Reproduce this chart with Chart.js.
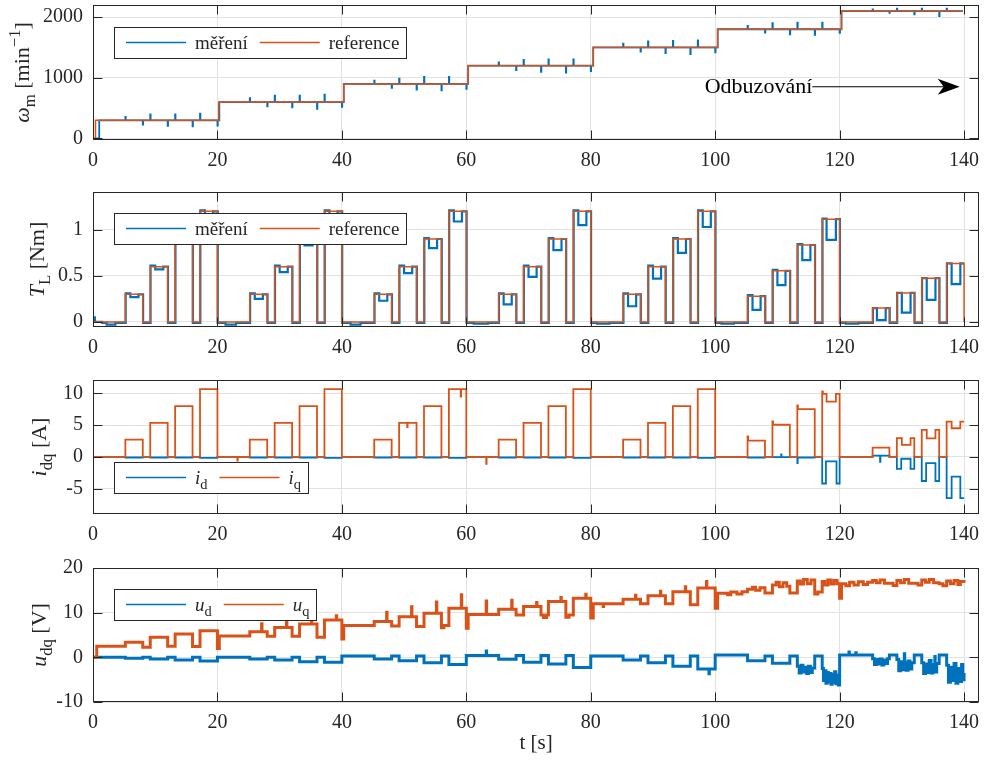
<!DOCTYPE html>
<html>
<head>
<meta charset="utf-8">
<script src="https://cdn.jsdelivr.net/npm/chart.js@4.4.1/dist/chart.umd.min.js"></script>
<style>
  html, body { margin: 0; padding: 0; background: #fff; }
  #wrap { position: relative; width: 984px; height: 765px; }
  canvas { position: absolute; left: 0; }
</style>
</head>
<body>
<div id="wrap">
  <canvas id="c1" width="984" height="180" style="top:0px"></canvas>
  <canvas id="c2" width="984" height="185" style="top:180px"></canvas>
  <canvas id="c3" width="984" height="190" style="top:365px"></canvas>
  <canvas id="c4" width="984" height="210" style="top:555px"></canvas>
</div>
<script>
// ---- data (t [s], value) ----
const xTicks = [0, 20, 40, 60, 80, 100, 120, 140];
const speedTicks = [0, 1000, 2000];
const torqueTicks = [0, 0.5, 1];
const currentTicks = [-5, 0, 5, 10];
const voltageTicks = [-10, 0, 10, 20];

const speedRef = [
  [0, 0], [0.4, 300], [20.2, 600], [40.3, 900], [60.3, 1200], [80.4, 1500],
  [100.4, 1800], [120.3, 2100], [139.8, 2100]
];

const speedMeas = [
  [0, 0], [1.0, 300], [5.2, 355], [5.26, 300], [8.0, 228], [8.06, 300], [9.2, 395], [9.26, 300],
  [12.0, 210], [12.06, 300], [13.2, 395], [13.26, 300], [16.0, 200], [16.06, 300], [17.2, 410], [17.26, 300],
  [20.0, 212], [20.06, 300],
  [20.3, 600], [25.2, 666], [25.26, 600], [28.0, 528], [28.06, 600], [29.2, 705], [29.26, 600],
  [32.0, 512], [32.06, 600], [33.2, 705], [33.26, 600], [36.0, 490], [36.06, 600], [37.2, 722], [37.26, 600],
  [40.0, 520], [40.06, 600],
  [40.3, 900], [45.2, 955], [45.26, 900], [48.0, 834], [48.06, 900], [49.2, 988], [49.26, 900],
  [52.0, 806], [52.06, 900], [53.2, 1016], [53.26, 900], [56.0, 795], [56.06, 900], [57.2, 1016], [57.26, 900],
  [60.0, 820], [60.06, 900],
  [60.3, 1200], [65.2, 1255], [65.26, 1200], [68.0, 1128], [68.06, 1200], [69.2, 1294], [69.26, 1200],
  [72.0, 1100], [72.06, 1200], [73.2, 1305], [73.26, 1200], [76.0, 1084], [76.06, 1200], [77.2, 1305], [77.26, 1200],
  [80.0, 1110], [80.06, 1200],
  [80.4, 1500], [85.2, 1561], [85.26, 1500], [88.0, 1434], [88.06, 1500], [89.2, 1600], [89.26, 1500],
  [92.0, 1406], [92.06, 1500], [93.2, 1610], [93.26, 1500], [96.0, 1390], [96.06, 1500], [97.2, 1616], [97.26, 1500],
  [100.0, 1420], [100.06, 1500],
  [100.4, 1800], [105.2, 1855], [105.26, 1800], [108.0, 1745], [108.06, 1800], [109.2, 1900], [109.26, 1800],
  [112.0, 1717], [112.06, 1800], [113.2, 1910], [113.26, 1800], [116.0, 1706], [116.06, 1800], [117.2, 1910], [117.26, 1800],
  [120.0, 1740], [120.06, 1800],
  [120.3, 2100], [125.3, 2128], [125.36, 2100], [128.0, 2072], [128.06, 2100], [129.2, 2139], [129.26, 2100],
  [132.0, 2045], [132.06, 2100], [133.2, 2139], [133.26, 2100], [136.0, 2017], [136.06, 2100], [137.2, 2139], [137.26, 2100],
  [139.8, 2100]
];

const torqueRef = [
  [0, 0], [5.2, 0.3], [8.0, 0], [9.2, 0.6], [12.0, 0], [13.2, 0.9], [16.0, 0], [17.2, 1.2], [20.0, 0],
  [25.2, 0.3], [28.0, 0], [29.2, 0.6], [32.0, 0], [33.2, 0.9], [36.0, 0], [37.2, 1.2], [40.0, 0],
  [45.2, 0.3], [48.0, 0], [49.2, 0.6], [52.0, 0], [53.2, 0.9], [56.0, 0], [57.2, 1.2], [60.0, 0],
  [65.2, 0.3], [68.0, 0], [69.2, 0.6], [72.0, 0], [73.2, 0.9], [76.0, 0], [77.2, 1.2], [80.0, 0],
  [85.2, 0.3], [88.0, 0], [89.2, 0.6], [92.0, 0], [93.2, 0.9], [96.0, 0], [97.2, 1.2], [100.0, 0],
  [105.2, 0.28], [108.0, 0], [109.2, 0.555], [112.0, 0], [113.2, 0.835], [116.0, 0], [117.2, 1.115], [120.0, 0],
  [125.3, 0.15], [128.0, 0], [129.2, 0.315], [132.0, 0], [133.2, 0.475], [136.0, 0], [137.2, 0.635], [140.0, 0]
];

const torqueMeas = [
  [0, 0.05], [0.3, 0], [1.5, -0.01], [2.2, -0.03], [3.6, -0.01],
  [5.25, 0.31], [6.0, 0.27], [7.3, 0.3], [8.05, -0.01], [9.25, 0.61], [10.0, 0.57], [11.3, 0.6], [12.05, -0.01],
  [13.25, 0.91], [14.0, 0.86], [15.3, 0.9], [16.05, -0.01], [17.25, 1.21], [18.0, 1.16], [19.3, 1.2], [20.05, -0.01],
  [21.3, -0.03], [23.0, -0.01],
  [25.25, 0.31], [26.0, 0.25], [27.3, 0.3], [28.05, -0.01], [29.25, 0.61], [30.0, 0.54], [31.3, 0.6], [32.05, -0.01],
  [33.25, 0.91], [34.0, 0.83], [35.3, 0.9], [36.05, -0.01], [37.25, 1.21], [38.0, 1.13], [39.3, 1.2], [40.05, -0.01],
  [41.4, -0.03], [43.0, -0.01],
  [45.25, 0.31], [46.0, 0.23], [47.3, 0.3], [48.05, -0.01], [49.25, 0.61], [50.0, 0.53], [51.3, 0.6], [52.05, -0.01],
  [53.25, 0.91], [54.0, 0.80], [55.3, 0.9], [56.05, -0.01], [57.25, 1.21], [58.0, 1.09], [59.3, 1.2], [60.05, -0.01],
  [61.2, -0.02], [63.5, -0.01],
  [65.25, 0.31], [66.0, 0.19], [67.3, 0.3], [68.05, -0.01], [69.25, 0.61], [70.0, 0.49], [71.3, 0.6], [72.05, -0.01],
  [73.25, 0.91], [74.0, 0.78], [75.3, 0.9], [76.05, -0.01], [77.25, 1.21], [78.0, 1.05], [79.3, 1.2], [80.05, -0.01],
  [81.0, -0.02], [83.0, -0.01],
  [85.25, 0.31], [86.0, 0.17], [87.3, 0.3], [88.05, -0.01], [89.25, 0.61], [90.0, 0.47], [91.3, 0.6], [92.05, -0.01],
  [93.25, 0.91], [94.0, 0.75], [95.3, 0.9], [96.05, -0.01], [97.25, 1.21], [98.0, 1.03], [99.3, 1.2], [100.05, -0.01],
  [101.0, -0.02], [103.0, -0.01],
  [105.25, 0.29], [106.0, 0.13], [107.3, 0.28], [108.05, -0.01], [109.25, 0.565], [110.0, 0.40], [111.3, 0.555], [112.05, -0.01],
  [113.25, 0.845], [114.0, 0.67], [115.3, 0.835], [116.05, -0.01], [117.25, 1.12], [117.9, 0.89], [119.4, 1.115], [120.05, -0.01],
  [121.0, -0.02], [123.0, -0.01],
  [125.35, 0.15], [126.0, 0.02], [127.4, 0.15], [128.05, -0.01], [129.25, 0.315], [130.0, 0.10], [131.4, 0.315], [132.05, -0.01],
  [133.25, 0.475], [134.0, 0.24], [135.4, 0.475], [136.05, -0.01], [137.25, 0.635], [138.0, 0.41], [139.4, 0.635], [140.0, 0.635]
];

const iq = [
  [0, 0], [5.2, 2.7], [8.0, 0], [9.2, 5.35], [12.0, 0], [13.2, 8.0], [16.0, 0], [17.2, 10.65], [20.0, 0],
  [23.2, -0.6], [23.26, 0],
  [25.2, 2.7], [28.0, 0], [29.2, 5.35], [32.0, 0], [33.2, 8.0], [36.0, 0], [37.2, 10.65], [40.0, 0],
  [45.2, 2.7], [48.0, 0], [49.2, 5.35], [50.5, 4.7], [50.56, 5.35], [52.0, 0], [53.2, 8.0], [56.0, 0],
  [57.2, 10.65], [59.1, 9.5], [59.16, 10.65], [60.0, 0],
  [63.2, -1.1], [63.26, 0],
  [65.2, 2.7], [68.0, 0], [69.2, 5.35], [72.0, 0], [73.2, 8.0], [76.0, 0], [77.2, 10.65], [80.0, 0],
  [85.2, 2.7], [88.0, 0], [89.2, 5.35], [92.0, 0], [93.2, 8.0], [96.0, 0], [97.2, 10.65], [100.0, 0],
  [105.2, 3.2], [105.3, 2.55], [108.0, 0], [109.2, 5.6], [109.3, 5.05], [112.0, 0], [113.2, 8.1], [113.3, 7.5], [116.0, 0],
  [117.2, 10.3], [117.3, 9.9], [117.9, 8.7], [119.4, 9.9], [120.0, 0],
  [125.3, 1.45], [128.0, 0], [129.2, 2.95], [130.0, 1.9], [131.4, 2.95], [132.0, 0],
  [133.2, 4.25], [134.0, 2.9], [135.4, 4.25], [136.0, 0], [137.2, 5.55], [138.0, 4.5], [139.4, 5.55], [140.0, 5.55]
];

const id = [
  [0, 0], [5.2, -0.1], [8.0, 0], [9.2, -0.1], [12.0, 0], [13.2, -0.1], [16.0, 0], [17.2, -0.15], [20.0, 0],
  [25.2, -0.1], [28.0, 0], [29.2, -0.1], [32.0, 0], [33.2, -0.1], [36.0, 0], [37.2, -0.15], [40.0, 0],
  [45.2, -0.1], [48.0, 0], [49.2, -0.1], [52.0, 0], [53.2, -0.1], [56.0, 0], [57.2, -0.15], [60.0, 0],
  [65.2, -0.1], [68.0, 0], [69.2, -0.1], [72.0, 0], [73.2, -0.1], [76.0, 0], [77.2, -0.15], [80.0, 0],
  [85.2, -0.1], [88.0, 0], [89.2, -0.1], [92.0, 0], [93.2, -0.1], [96.0, 0], [97.2, -0.15], [100.0, 0],
  [105.2, -0.1], [108.0, 0], [109.2, -0.05], [110.6, 0.4], [110.66, -0.05], [112.0, 0],
  [113.2, -1.0], [113.26, -0.1], [116.0, 0], [117.2, -4.2], [117.8, -0.7], [119.5, -4.2], [120.0, 0],
  [125.3, 0.2], [126.5, -0.8], [126.56, 0.2], [128.0, 0], [129.2, -1.9], [129.9, -0.3], [131.4, -1.9], [132.0, 0],
  [133.2, -3.8], [133.9, -1.0], [135.4, -3.8], [136.0, 0], [137.2, -6.5], [138.0, -3.1], [139.4, -6.5], [140.0, -6.5]
];

const uq = [
  [0, 0], [0.6, 2.5], [5.2, 3.35], [8.0, 2.25], [9.2, 4.5], [12.0, 2.5], [13.2, 5.2], [16.0, 2.4], [17.2, 5.95],
  [20.0, 2.0], [20.3, 4.8],
  [25.2, 5.75], [27.1, 7.5], [27.16, 5.75], [28.0, 4.7], [29.2, 6.7], [31.1, 8.5], [31.16, 6.7], [32.0, 4.7],
  [33.2, 7.45], [35.1, 9.0], [35.16, 7.45], [36.0, 4.5], [37.2, 8.35], [39.1, 9.3], [39.16, 8.35], [40.0, 4.1], [40.3, 7.1],
  [45.2, 8.0], [47.2, 10.1], [47.26, 8.0], [48.0, 7.0], [49.2, 9.1], [51.2, 11.3], [51.26, 9.1], [52.0, 6.9],
  [53.2, 9.85], [55.2, 12.4], [55.26, 9.85], [56.0, 6.6], [56.4, 7.1], [57.2, 11.0], [59.2, 14.0], [59.26, 11.0],
  [60.0, 6.5], [60.3, 9.6],
  [63.2, 12.6], [63.26, 9.6], [65.2, 10.75], [67.3, 12.8], [67.36, 10.75], [68.0, 9.5], [69.2, 11.4], [71.3, 12.3],
  [71.36, 11.4], [72.0, 9.5], [72.4, 8.9], [72.9, 9.5], [73.2, 12.5], [75.2, 13.4], [75.26, 12.5], [76.0, 9.0],
  [76.5, 9.5], [77.2, 13.2], [79.2, 14.1], [79.26, 13.2], [80.0, 8.8], [80.4, 12.0],
  [82.0, 11.4], [82.06, 12.0], [85.2, 13.0], [87.2, 13.9], [87.26, 13.0], [88.0, 12.0], [89.2, 13.8], [91.2, 14.8],
  [91.26, 13.8], [92.0, 12.0], [93.2, 14.7], [95.2, 15.8], [95.26, 14.7], [96.0, 11.8], [97.2, 15.5], [98.6, 17.0],
  [98.66, 15.5], [100.0, 11.0],
  [100.4, 14.35], [102.0, 14.0], [102.5, 14.6], [103.5, 14.2], [104.3, 14.7], [105.2, 15.25], [106.0, 15.7],
  [106.5, 15.0], [107.2, 15.6], [108.0, 14.4], [109.2, 16.2], [109.8, 16.8], [110.3, 15.8], [110.9, 16.7],
  [111.5, 15.9], [112.0, 14.4], [113.2, 17.1], [113.7, 16.4], [114.2, 17.4], [114.8, 16.5], [115.4, 17.3],
  [116.0, 14.2], [116.5, 14.6], [117.2, 17.0], [117.6, 16.2], [118.1, 17.3], [118.6, 16.4], [119.1, 17.2],
  [119.6, 16.5], [120.0, 13.2],
  [120.3, 16.5], [121.0, 16.0], [121.6, 16.8], [122.3, 16.2], [123.0, 16.9], [123.8, 16.3], [124.5, 16.8],
  [125.3, 17.2], [125.9, 16.7], [126.5, 17.3], [127.2, 16.6], [128.0, 16.6], [128.6, 16.1], [129.2, 17.2],
  [129.8, 16.7], [130.4, 17.4], [131.1, 16.6], [132.0, 16.6], [132.6, 16.2], [133.2, 17.3], [133.8, 16.8],
  [134.4, 17.4], [135.1, 16.7], [136.0, 16.5], [136.6, 16.0], [137.2, 17.1], [137.8, 16.5], [138.4, 17.2],
  [139.0, 16.3], [139.4, 17.0], [140.0, 16.7]
];

const ud = [
  [0, 0], [5.2, -0.2], [8.0, 0], [9.2, -0.4], [12.0, 0], [13.2, -0.6], [16.0, 0], [17.2, -0.8], [20.0, 0],
  [25.2, -0.4], [28.0, 0], [29.2, -0.6], [32.0, 0], [33.2, -1.0], [36.0, 0], [37.2, -1.1], [40.0, 0.3],
  [45.2, -0.4], [48.0, 0.3], [49.2, -0.75], [52.0, 0.3], [53.2, -1.2], [56.0, 0.3], [57.2, -1.6], [60.0, 0.4],
  [63.2, 1.4], [63.26, 0.4], [65.2, -0.45], [68.0, 0.4], [69.2, -1.1], [72.0, 0.4], [73.2, -1.5], [76.0, 0.4],
  [77.2, -2.25], [80.0, 0.3],
  [85.2, -0.6], [88.0, 0.3], [89.2, -1.2], [92.0, 0.3], [93.2, -2.0], [96.0, 0.3], [97.2, -2.6], [99.0, -3.7],
  [99.06, -2.6], [100.0, 0.5],
  [105.2, -0.75], [108.0, 0.3], [109.2, -1.35], [112.0, 0.3],
  [113.2, -2.0], [113.5, -3.5], [113.8, -1.8], [114.1, -3.3], [114.4, -2.2], [114.7, -3.6], [115.0, -2.0],
  [115.3, -3.4], [115.6, -2.4], [116.0, 0.3],
  [117.2, -2.5], [117.4, -5.2], [117.6, -3.0], [117.8, -5.8], [118.0, -3.4], [118.2, -5.5], [118.4, -3.6],
  [118.6, -6.0], [118.8, -3.8], [119.0, -5.6], [119.2, -3.2], [119.4, -5.9], [119.6, -4.0], [119.8, -6.2], [120.0, 0.5],
  [121.5, 1.2], [121.56, 0.5], [122.6, 1.0], [122.66, 0.5],
  [125.3, -0.3], [125.6, -1.6], [125.9, -0.5], [126.2, -1.5], [126.5, -0.4], [126.8, -1.7], [127.1, -0.6],
  [127.4, -1.4], [127.7, -0.3], [128.0, 0.5],
  [129.2, -0.5], [129.5, -3.0], [129.8, -1.0], [130.1, -2.8], [130.4, 0.8], [130.46, -1.2], [130.7, -2.9],
  [131.0, -0.8], [131.3, -2.6], [131.6, -1.2], [132.0, 0.5],
  [133.2, -1.2], [133.5, -3.6], [133.8, -1.5], [134.1, -3.4], [134.4, -0.7], [134.7, -3.5], [135.0, -1.6],
  [135.3, 0.2], [135.36, -3.3], [135.6, -1.4], [136.0, 0.5],
  [137.2, -1.8], [137.5, -5.6], [137.8, -2.2], [138.1, -5.2], [138.4, -1.4], [138.7, -5.8], [139.0, -2.5],
  [139.3, -5.4], [139.6, -1.6], [139.8, -5.0], [140.0, -3.5]
];

// ---- styling ----
const AX = '#262626';
const GRID = '#e2e2e2';
const BLUE = '#0072BD';
const ORANGE = '#D95319';
const FONT = '"Liberation Serif", "DejaVu Serif", serif';

function pts(arr) { return arr.map(([x, y]) => ({ x, y })); }

function partFont(p, size) {
  const s = (p.sub || p.sup) ? size * 0.76 : size;
  return (p.it ? 'italic ' : '') + s + 'px ' + FONT;
}
function richWidth(ctx, parts, size) {
  let w = 0;
  for (const p of parts) { ctx.font = partFont(p, size); w += ctx.measureText(p.t).width; }
  return w;
}
function drawRich(ctx, parts, x, y, size) {
  let cx = x;
  for (const p of parts) {
    ctx.font = partFont(p, size);
    const dy = p.sub ? size * 0.28 : p.sup ? -size * 0.4 : 0;
    ctx.fillText(p.t, cx, y + dy);
    cx += ctx.measureText(p.t).width;
  }
  return cx - x;
}

function panelPlugin(p) {
  return {
    id: 'panel_' + p.id,
    afterDatasetsDraw(chart) {
      const { ctx, chartArea: a, scales: { x, y } } = chart;
      ctx.save();
      // box and inward ticks
      const L = Math.round(a.left) + 0.5, R = Math.round(a.right) - 0.5;
      const T = Math.round(a.top) + 0.5, B = Math.round(a.bottom) - 0.5;
      ctx.strokeStyle = AX;
      ctx.lineWidth = 1;
      ctx.strokeRect(L, T, R - L, B - T);
      ctx.beginPath();
      for (const v of xTicks) {
        const px = Math.round(x.getPixelForValue(v)) + 0.5;
        ctx.moveTo(px, B); ctx.lineTo(px, B - 9);
        ctx.moveTo(px, T); ctx.lineTo(px, T + 9);
      }
      for (const v of p.yTicks) {
        const py = Math.round(y.getPixelForValue(v)) + 0.5;
        ctx.moveTo(L, py); ctx.lineTo(L + 9, py);
        ctx.moveTo(R, py); ctx.lineTo(R - 9, py);
      }
      ctx.stroke();

      // annotation with arrow
      if (p.note) {
        const n = p.note;
        const ty = y.getPixelForValue(n.y);
        const tx0 = x.getPixelForValue(n.x0), tx1 = x.getPixelForValue(n.x1);
        ctx.fillStyle = '#000';
        ctx.font = '22px ' + FONT;
        ctx.textAlign = 'right';
        ctx.textBaseline = 'middle';
        ctx.fillText(n.text, tx0, ty);
        ctx.strokeStyle = '#000';
        ctx.lineWidth = 1.2;
        ctx.beginPath(); ctx.moveTo(tx0, ty); ctx.lineTo(tx1 - 12, ty); ctx.stroke();
        ctx.beginPath();
        ctx.moveTo(tx1, ty); ctx.lineTo(tx1 - 22, ty - 8); ctx.lineTo(tx1 - 16, ty);
        ctx.lineTo(tx1 - 22, ty + 8); ctx.closePath(); ctx.fill();
      }

      // legend
      const lg = p.legend;
      const lx = a.left + 21, ly = a.top + lg.dy, lh = 31;
      ctx.textAlign = 'left';
      ctx.textBaseline = 'alphabetic';
      let w = 12;
      for (const e of lg.items) w += 60 + 9 + richWidth(ctx, e.parts, 19) + 12;
      w -= 5;
      ctx.fillStyle = '#fff';
      ctx.fillRect(lx, ly, w, lh);
      ctx.strokeStyle = AX;
      ctx.lineWidth = 1;
      ctx.strokeRect(Math.round(lx) + 0.5, Math.round(ly) + 0.5, Math.round(w), lh);
      let cx = lx + 12;
      const cy = ly + lh / 2;
      for (const e of lg.items) {
        ctx.strokeStyle = e.color;
        ctx.lineWidth = 1.5;
        ctx.beginPath(); ctx.moveTo(cx, cy); ctx.lineTo(cx + 60, cy); ctx.stroke();
        cx += 69;
        ctx.fillStyle = AX;
        cx += drawRich(ctx, e.parts, cx, cy + 6, 19) + 12;
      }
      ctx.restore();
    },
    afterDraw(chart) {
      const { ctx, chartArea: a } = chart;
      ctx.save();
      ctx.fillStyle = AX;
      ctx.textBaseline = 'alphabetic';
      const size = 22;
      const tw = richWidth(ctx, p.title, size);
      ctx.translate(p.titleX, (a.top + a.bottom) / 2);
      ctx.rotate(-Math.PI / 2);
      drawRich(ctx, p.title, -tw / 2, 0, size);
      ctx.restore();
      if (p.xTitle) {
        ctx.save();
        ctx.fillStyle = AX;
        ctx.textBaseline = 'middle';
        const xw = richWidth(ctx, p.xTitle, 21);
        drawRich(ctx, p.xTitle, (a.left + a.right) / 2 - xw / 2, p.xTitleY, 21);
        ctx.restore();
      }
    }
  };
}

function makePanel(p) {
  new Chart(document.getElementById(p.id), {
    type: 'line',
    data: { datasets: p.datasets },
    options: {
      responsive: false,
      animation: false,
      devicePixelRatio: 1,
      layout: { padding: { top: p.padTop, right: 5, left: 0, bottom: 0 } },
      plugins: { legend: { display: false }, tooltip: { enabled: false } },
      elements: { point: { radius: 0 } },
      scales: {
        x: {
          type: 'linear', min: 0, max: 142.4,
          afterBuildTicks: s => { s.ticks = xTicks.map(v => ({ value: v })); },
          afterFit: s => { s.height = p.xAxisH; s.paddingLeft = 0; s.paddingRight = 0; },
          grid: { color: GRID, drawTicks: false },
          border: { display: false },
          ticks: { color: AX, font: { family: FONT, size: 20 }, padding: 9, maxRotation: 0, autoSkip: false, callback: v => String(v) }
        },
        y: {
          type: 'linear', min: p.yMin, max: p.yMax,
          afterBuildTicks: s => { s.ticks = p.yTicks.map(v => ({ value: v })); },
          afterFit: s => { s.width = 93; s.paddingTop = 0; s.paddingBottom = 0; },
          grid: { color: GRID, drawTicks: false },
          border: { display: false },
          ticks: { color: AX, font: { family: FONT, size: 20 }, padding: 10, autoSkip: false, callback: v => String(v) }
        }
      }
    },
    plugins: [panelPlugin(p)]
  });
}

function line(data, color, width, order) {
  return { data: pts(data), borderColor: color, borderWidth: width, stepped: true, fill: false, pointRadius: 0, order };
}

makePanel({
  id: 'c1', padTop: 5, xAxisH: 40, yMin: -25, yMax: 2200, yTicks: speedTicks, titleX: 29,
  title: [{ t: 'ω', it: 1 }, { t: 'm', sub: 1 }, { t: ' [min' }, { t: '−1', sup: 1 }, { t: ']' }],
  datasets: [line(speedMeas, BLUE, 1.8, 1), line(speedRef, ORANGE, 1.5, 0)],
  legend: { dy: 22, items: [
    { color: BLUE, parts: [{ t: 'měření' }] },
    { color: ORANGE, parts: [{ t: 'reference' }] }
  ] },
  note: { text: 'Odbuzování', x0: 115.6, x1: 139.3, y: 853 }
});

makePanel({
  id: 'c2', padTop: 12, xAxisH: 38, yMin: -0.055, yMax: 1.41, yTicks: torqueTicks, titleX: 44,
  title: [{ t: 'T', it: 1 }, { t: 'L', sub: 1 }, { t: ' [Nm]' }],
  datasets: [line(torqueMeas, BLUE, 2.2, 1), line(torqueRef, ORANGE, 1.5, 0)],
  legend: { dy: 21, items: [
    { color: BLUE, parts: [{ t: 'měření' }] },
    { color: ORANGE, parts: [{ t: 'reference' }] }
  ] }
});

makePanel({
  id: 'c3', padTop: 15, xAxisH: 41, yMin: -9, yMax: 12.1, yTicks: currentTicks, titleX: 46,
  title: [{ t: 'i', it: 1 }, { t: 'dq', sub: 1 }, { t: ' [A]' }],
  datasets: [line(id, BLUE, 1.8, 1), line(iq, ORANGE, 1.8, 0)],
  legend: { dy: 82, items: [
    { color: BLUE, parts: [{ t: 'i', it: 1 }, { t: 'd', sub: 1 }] },
    { color: ORANGE, parts: [{ t: 'i', it: 1 }, { t: 'q', sub: 1 }] }
  ] }
});

makePanel({
  id: 'c4', padTop: 13, xAxisH: 63, yMin: -10, yMax: 20, yTicks: voltageTicks, titleX: 46,
  title: [{ t: 'u', it: 1 }, { t: 'dq', sub: 1 }, { t: ' [V]' }],
  datasets: [line(ud, BLUE, 3, 1), line(uq, ORANGE, 3, 0)],
  legend: { dy: 21, items: [
    { color: BLUE, parts: [{ t: 'u', it: 1 }, { t: 'd', sub: 1 }] },
    { color: ORANGE, parts: [{ t: 'u', it: 1 }, { t: 'q', sub: 1 }] }
  ] },
  xTitle: [{ t: 't [s]' }], xTitleY: 188
});
</script>
</body>
</html>
